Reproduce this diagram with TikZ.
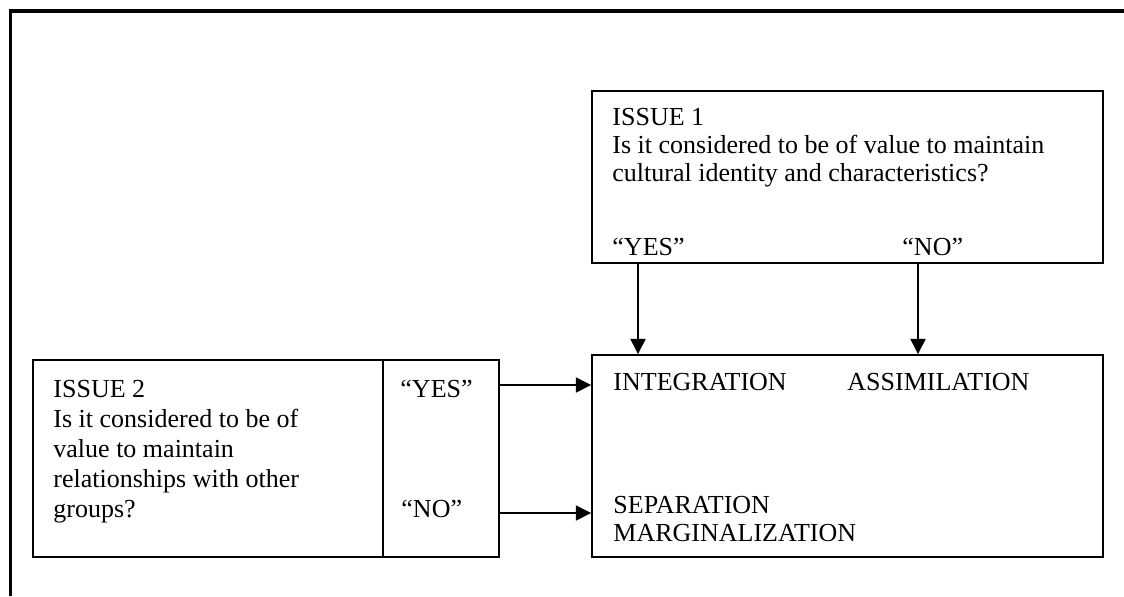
\documentclass[tikz,border=0pt]{standalone}
\usepackage{fontspec}
\setmainfont{Liberation Serif}
\usetikzlibrary{arrows.meta,fit}
\begin{document}
\begin{tikzpicture}[x=0.4615pt,y=-0.4615pt,
  box/.style={draw, line width=0.9pt, inner sep=0pt},
  divline/.style={line width=0.9pt},
  frame/.style={line width=1.4pt},
  arr/.style={line width=0.65pt, -{Triangle[length=7pt,width=7pt]}},
  txt/.style={inner sep=0pt, anchor=base west, font=\fontsize{12}{13.85}\selectfont}]
\useasboundingbox (0,0) rectangle (1124,596);
% outer frame (partly cut off)
\draw[frame] (10.5,596) -- (10.5,11) -- (1124,11);
% boxes
\node[box, fit={(592,91) (1103,263)}] (i1) {};
\node[box, fit={(592,355) (1103,557)}] (res) {};
\node[box, fit={(33,360) (499,557)}] (i2) {};
\coordinate (dv) at (383,0);
\draw[divline] (dv |- i2.north) -- (dv |- i2.south);
% issue 1 text
\node[txt] (i1t) at (612,125) {ISSUE 1};
\node[txt] (i1q1) at (612,153) {Is it considered to be of value to maintain};
\node[txt] (i1q2) at (612,181) {cultural identity and characteristics?};
\node[txt] (i1y) at (612,255) {“YES”};
\node[txt] (i1n) at (902,255) {“NO”};
% issue 2 text
\node[txt] (i2t) at (53,397) {ISSUE 2};
\node[txt] (i2q1) at (53,427) {Is it considered to be of};
\node[txt] (i2q2) at (53,457) {value to maintain};
\node[txt] (i2q3) at (53,487) {relationships with other};
\node[txt] (i2q4) at (53,517) {groups?};
\node[txt] (i2y) at (400,397) {“YES”};
\node[txt] (i2n) at (401,517) {“NO”};
% result text
\node[txt] (int) at (613,390) {INTEGRATION};
\node[txt] (ass) at (847,390) {ASSIMILATION};
\node[txt] (sep) at (613,513) {SEPARATION};
\node[txt] (mar) at (613,541) {MARGINALIZATION};
% arrows
\coordinate (ay) at (638,0);
\coordinate (an) at (918,0);
\coordinate (hy) at (0,385);
\coordinate (hn) at (0,513);
\draw[arr] (ay |- i1.south) -- (ay |- res.north);
\draw[arr] (an |- i1.south) -- (an |- res.north);
\draw[arr] (i2.east |- hy) -- (res.west |- hy);
\draw[arr] (i2.east |- hn) -- (res.west |- hn);
\end{tikzpicture}
\end{document}
